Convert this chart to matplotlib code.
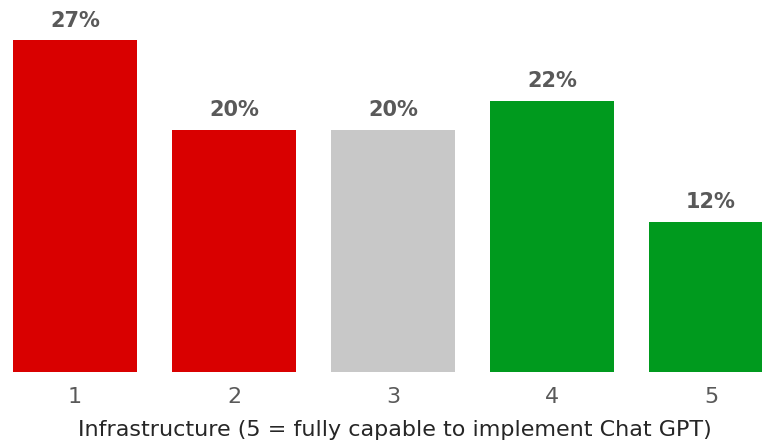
import matplotlib
matplotlib.use("Agg")
import matplotlib.pyplot as plt

categories = ["1", "2", "3", "4", "5"]
values = [27.4, 20.0, 20.0, 22.4, 12.4]
colors = ["#d90000", "#d90000", "#c8c8c8", "#009a1e", "#009a1e"]
xlabel = "Infrastructure (5 = fully capable to implement Chat GPT)"

W, H = 762, 446
fig = plt.figure(figsize=(W / 100, H / 100), dpi=100)
ax = fig.add_axes([0, (H - 372) / H, 1, 372 / H])

x = list(range(1, len(categories) + 1))
bars = ax.bar(x, values, width=0.78, color=colors)
for xi, v in zip(x, values):
    ax.annotate(f"{round(v)}%", (xi, v), xytext=(0, 7), textcoords="offset points",
                ha="center", va="bottom", fontsize=15, fontweight="bold", color="#595959")

ax.set_ylim(0, 372 / 12.1)
ax.set_xlim(1 - 75 / 159, 1 + (W - 75) / 159)
ax.set_xticks(x)
ax.set_xticklabels(categories, fontsize=16, color="#595959")
ax.tick_params(axis="x", length=0, pad=11)
ax.set_yticks([])
for s in ax.spines.values():
    s.set_visible(False)
ax.set_xlabel(xlabel, fontsize=16, color="#262626", labelpad=9)
ax.xaxis.label.set_x(395 / W)

fig.savefig("out.png", dpi=100)
